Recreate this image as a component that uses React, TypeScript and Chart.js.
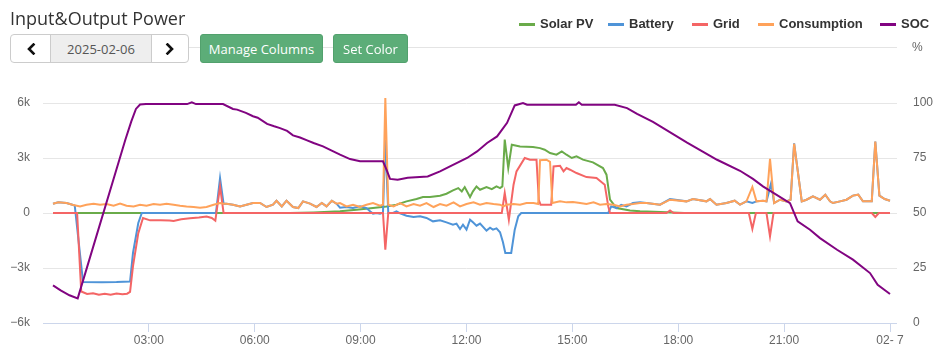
import React, { useEffect, useRef } from "react";
import { Chart, registerables } from "chart.js";

Chart.register(...registerables);

// ---------- data ----------
const SERIES_NAMES = ["Solar PV", "Battery", "Grid", "Consumption", "SOC"];
const SERIES_COLORS = ["#6aab4a", "#4f94d8", "#f46565", "#ffa25a", "#810481"];

const X_TICK_MINUTES = [180, 360, 540, 720, 900, 1080, 1260, 1440];
const X_TICK_LABELS = ["03:00", "06:00", "09:00", "12:00", "15:00", "18:00", "21:00", "02- 7"];
const LEFT_TICK_VALUES = [-6000, -3000, 0, 3000, 6000];
const LEFT_TICK_LABELS = ["\u22126k", "\u22123k", "0", "3k", "6k"];
const RIGHT_TICK_VALUES = [0, 25, 50, 75, 100];
const RIGHT_TICK_LABELS = ["0", "25", "50", "75", "100"];

// [minute of day, W]
const SOLAR_PV: [number, number][] = [
  [17, 0], [420, 0], [460, 30], [505, 90], [533, 180], [561, 270], [584, 360], [601, 450],
  [618, 635], [635, 760], [646, 870], [658, 870], [675, 945], [686, 1050], [697, 1235],
  [706, 1360], [712, 1180], [717, 1415], [726, 870], [731, 1180], [737, 1450], [743, 1270],
  [754, 1415], [763, 1300], [771, 1450], [777, 1360], [781, 1450], [785, 4000], [791, 2450],
  [797, 3720], [811, 3630], [833, 3600], [845, 3540], [853, 3450], [862, 3270], [873, 3180],
  [882, 3360], [890, 3180], [899, 3000], [907, 3090], [918, 2910], [935, 2760], [952, 2450],
  [958, 2090], [964, 725], [975, 270], [998, 140], [1015, 90], [1050, 50], [1090, 0], [1440, 0],
];

const BATTERY: [number, number][] = [
  [17, 500], [26, 580], [40, 545], [50, 450], [54, 400], [68, -3760], [100, -3780], [125, -3770],
  [148, -3740], [153, -2180], [162, -545], [168, 0], [294, 0], [301, 1900], [307, 510], [312, 510],
  [323, 453], [335, 360], [346, 453], [357, 545], [369, 545], [380, 327], [391, 453], [397, 670],
  [406, 360], [414, 670], [425, 327], [434, 270], [442, 635], [454, 510], [465, 327], [474, 545],
  [482, 360], [491, 670], [499, 510], [505, 290], [516, 330], [527, 270], [539, 360], [550, 270],
  [556, 90], [561, -35], [567, 0], [573, -35], [578, 30], [582, 4000], [587, 0], [595, 0],
  [601, 90], [607, -20], [618, -145], [630, -220], [641, -180], [652, -270], [663, -455],
  [675, -400], [686, -510], [697, -640], [703, -580], [709, -870], [714, -640], [720, -910],
  [726, -365], [731, -510], [737, -690], [743, -580], [754, -960], [760, -800], [765, -910],
  [771, -840], [777, -1050], [782, -1600], [786, -2180], [796, -2180], [802, -910], [808, -180],
  [813, 0], [961, 0], [966, 360], [975, 270], [983, 450], [992, 360], [1003, 545], [1015, 580],
  [1026, 545], [1049, 453], [1066, 760], [1094, 635], [1105, 760], [1128, 635], [1134, 760],
  [1145, 453], [1162, 545], [1176, 670], [1185, 453], [1196, 635], [1206, 545], [1213, 635],
  [1224, 670], [1230, 635], [1238, 1640], [1243, 545], [1253, 725], [1264, 635], [1271, 725],
  [1277, 3800], [1290, 635], [1298, 725], [1309, 905], [1321, 725], [1330, 1000], [1338, 635],
  [1343, 545], [1355, 635], [1366, 725], [1377, 950], [1386, 1000], [1394, 635], [1409, 635],
  [1415, 3900], [1422, 950], [1431, 760], [1440, 670],
];

const GRID: [number, number][] = [
  [17, 0], [58, 0], [65, -4280], [75, -4420], [85, -4380], [95, -4460], [105, -4400],
  [115, -4460], [125, -4390], [135, -4430], [143, -4400], [148, -4300], [153, -2900],
  [162, -1100], [170, -270], [182, -400], [200, -400], [215, -410], [222, -430], [235, -340],
  [250, -280], [265, -240], [278, -190], [287, -270], [293, -420], [301, 1450], [307, 0],
  [578, 0], [582, -2000], [587, 0], [780, 0], [785, 1090], [792, -365], [800, 1545],
  [805, 2270], [819, 3000], [828, 2910], [839, 2910], [843, 700], [846, 450], [864, 450],
  [868, 2540], [879, 2580], [885, 2270], [890, 2450], [896, 2360], [907, 2180], [924, 1960],
  [941, 1910], [955, 1545], [961, 360], [964, 0], [1060, 0], [1066, 140], [1072, 0],
  [1200, 0], [1206, -870], [1212, 0], [1230, 0], [1236, -1270], [1242, 0], [1409, 0],
  [1415, -220], [1421, 0], [1440, 0],
];

const CONSUMPTION: [number, number][] = [
  [17, 507], [26, 580], [40, 545], [50, 453], [63, 360], [74, 453], [86, 510], [97, 453],
  [108, 490], [120, 400], [131, 510], [142, 400], [154, 360], [165, 453], [176, 400], [188, 490],
  [199, 453], [210, 510], [222, 453], [233, 400], [244, 360], [256, 327], [267, 290], [278, 327],
  [290, 453], [301, 545], [307, 510], [312, 510], [323, 453], [335, 360], [346, 453], [357, 545],
  [369, 545], [380, 327], [391, 453], [397, 670], [406, 360], [414, 670], [425, 327], [434, 270],
  [442, 635], [454, 510], [465, 327], [474, 545], [482, 360], [491, 670], [499, 510], [505, 545],
  [516, 360], [527, 453], [539, 327], [550, 453], [561, 545], [573, 400], [578, 453], [582, 6270],
  [587, 453], [596, 360], [607, 545], [618, 360], [630, 490], [641, 400], [652, 545], [664, 327],
  [675, 490], [686, 400], [698, 580], [709, 360], [720, 490], [732, 580], [743, 453], [754, 545],
  [766, 490], [777, 453], [783, 360], [788, 453], [800, 490], [811, 453], [822, 545], [834, 545],
  [842, 490], [845, 2880], [856, 2910], [862, 2790], [866, 545], [879, 635], [890, 580],
  [901, 600], [913, 545], [924, 490], [936, 580], [947, 453], [958, 490], [970, 453], [981, 360],
  [992, 453], [1003, 490], [1015, 545], [1026, 545], [1049, 453], [1066, 725], [1094, 635],
  [1105, 760], [1128, 635], [1134, 760], [1145, 453], [1162, 545], [1176, 670], [1185, 453],
  [1196, 635], [1206, 1420], [1213, 635], [1224, 670], [1230, 635], [1236, 2960], [1243, 545],
  [1253, 725], [1264, 635], [1271, 725], [1277, 3780], [1290, 635], [1298, 725], [1309, 905],
  [1321, 725], [1330, 1000], [1338, 635], [1343, 545], [1355, 635], [1366, 725], [1377, 950],
  [1386, 1000], [1394, 635], [1409, 635], [1415, 3900], [1422, 950], [1431, 760], [1440, 670],
];

// [minute of day, %]
const SOC: [number, number][] = [
  [17, 17.1], [30, 14.8], [45, 12.6], [59, 11.2], [140, 83.3], [150, 91.5], [158, 97.3],
  [165, 99.3], [175, 99.5], [245, 99.5], [253, 100.3], [260, 99.5], [306, 99.5], [323, 97.3],
  [330, 97.0], [345, 95.5], [357, 94], [365, 93.3], [381, 90.5], [393, 89.4], [403, 88.6],
  [415, 87.3], [425, 85.3], [437, 84.3], [449, 83], [460, 81.8], [476, 80.3], [490, 78.5],
  [505, 76.5], [522, 74.5], [539, 73.5], [578, 73.5], [584, 69.7], [590, 65.5], [603, 65.1],
  [620, 66], [654, 66.6], [675, 68.9], [692, 71.2], [721, 75], [738, 78], [755, 81.8],
  [772, 84.8], [789, 91], [802, 98.9], [816, 100], [823, 99.2], [906, 99.2], [911, 100.3],
  [916, 99.2], [972, 99.2], [993, 97.7], [1010, 95.1], [1037, 91.4], [1095, 82], [1146, 74.2],
  [1185, 69.2], [1207, 65.5], [1224, 62.1], [1270, 54.5], [1283, 46.2], [1304, 42.4],
  [1321, 38.6], [1350, 33.3], [1377, 28.8], [1406, 22.7], [1419, 17.4], [1440, 13.2],
];

const SERIES_DATA = [SOLAR_PV, BATTERY, GRID, CONSUMPTION, SOC];
const LEGEND_LEFT = [519, 608, 692, 758, 880];

const toXY = (pts: [number, number][]) => pts.map(([x, y]) => ({ x, y }));

// extends horizontal grid lines and the x axis line a few px past the plot's right edge
const gridExtendPlugin = {
  id: "gridExtend",
  beforeDatasetsDraw(chart: any) {
    const { ctx, chartArea, scales } = chart;
    const ys = scales.y;
    ctx.save();
    ctx.lineWidth = 1;
    ys.ticks.forEach((t: any) => {
      const py = Math.round(ys.getPixelForValue(t.value)) + 0.5;
      ctx.strokeStyle = t.value === LEFT_TICK_VALUES[0] ? "#ccd6eb" : "#e6e6e6";
      ctx.beginPath();
      ctx.moveTo(chartArea.right, py);
      ctx.lineTo(chartArea.right + 7, py);
      ctx.stroke();
    });
    ctx.restore();
  },
};

const Chevron = ({ dir }: { dir: "left" | "right" }) => (
  <svg width="10" height="12" viewBox="0 0 10 12" style={{ display: "block" }}>
    <polyline
      points={dir === "left" ? "7.5,1.5 3,6 7.5,10.5" : "2.5,1.5 7,6 2.5,10.5"}
      fill="none"
      stroke="#111"
      strokeWidth="2.6"
      strokeLinecap="square"
    />
  </svg>
);

export default function App() {
  const canvasRef = useRef<HTMLCanvasElement>(null);

  useEffect(() => {
    if (!canvasRef.current) return;
    const datasets = SERIES_NAMES.map((name, i) => ({
      label: name,
      data: toXY(SERIES_DATA[i]),
      borderColor: SERIES_COLORS[i],
      backgroundColor: SERIES_COLORS[i],
      borderWidth: 2,
      pointRadius: 0,
      tension: 0,
      fill: false,
      clip: { left: 2, top: 12, right: 2, bottom: 2 },
      yAxisID: i === 4 ? "y1" : "y",
      order: 5 - i,
    }));

    const chart = new Chart(canvasRef.current, {
      type: "line",
      data: { datasets },
      plugins: [gridExtendPlugin],
      options: {
        animation: false,
        responsive: false,
        devicePixelRatio: 1,
        layout: { padding: { top: 103, left: 0, right: 0, bottom: 0 } },
        plugins: { legend: { display: false }, tooltip: { enabled: false } },
        scales: {
          x: {
            type: "linear",
            min: 0,
            max: 1440,
            afterBuildTicks: (s: any) => {
              s.ticks = X_TICK_MINUTES.map((v) => ({ value: v }));
            },
            afterFit: (s: any) => {
              s.height = 37;
            },
            ticks: {
              autoSkip: false,
              maxRotation: 0,
              padding: 1,
              color: "#666",
              font: { family: "'Liberation Sans', Arial, sans-serif", size: 12 },
              callback: (_v: any, i: number) => X_TICK_LABELS[i],
            },
            grid: { drawOnChartArea: false, drawTicks: true, tickLength: 9, color: "#ccd6eb" },
            border: { display: true, color: "#ccd6eb" },
          },
          y: {
            type: "linear",
            position: "left",
            min: -6000,
            max: 6000,
            afterBuildTicks: (s: any) => {
              s.ticks = LEFT_TICK_VALUES.map((v) => ({ value: v }));
            },
            afterFit: (s: any) => {
              s.width = 43;
            },
            ticks: {
              padding: 13,
              color: "#666",
              font: { family: "'Liberation Sans', Arial, sans-serif", size: 12 },
              callback: (_v: any, i: number) => LEFT_TICK_LABELS[i],
            },
            grid: { color: "#e6e6e6", drawTicks: false },
            border: { display: false },
          },
          y1: {
            type: "linear",
            position: "right",
            min: 0,
            max: 100,
            afterBuildTicks: (s: any) => {
              s.ticks = RIGHT_TICK_VALUES.map((v) => ({ value: v }));
            },
            afterFit: (s: any) => {
              s.width = 54;
            },
            ticks: {
              padding: 23,
              color: "#666",
              font: { family: "'Liberation Sans', Arial, sans-serif", size: 12 },
              callback: (_v: any, i: number) => RIGHT_TICK_LABELS[i],
            },
            grid: { drawOnChartArea: false, drawTicks: false },
            border: { display: false },
          },
        },
      } as any,
    });
    return () => chart.destroy();
  }, []);

  const btnFont = "'Open Sans', 'Noto Sans', sans-serif";

  return (
    <div
      style={{
        position: "absolute",
        left: 0,
        top: 0,
        width: 944,
        height: 360,
        background: "#fff",
        overflow: "hidden",
      }}
    >
      <canvas
        ref={canvasRef}
        width={944}
        height={360}
        style={{ position: "absolute", left: 0, top: 0, width: 944, height: 360 }}
      />

      {/* title */}
      <div
        style={{
          position: "absolute",
          left: 10,
          top: 6,
          fontFamily: btnFont,
          fontSize: 18,
          lineHeight: "24px",
          color: "#333",
          whiteSpace: "nowrap",
        }}
      >
        Input&amp;Output Power
      </div>

      {/* header rule */}
      <div style={{ position: "absolute", left: 10, top: 47, width: 887, height: 1, background: "#e4e4e4" }} />

      {/* date navigator */}
      <div
        style={{
          position: "absolute",
          left: 10,
          top: 34,
          width: 177,
          height: 27,
          border: "1px solid #ccc",
          borderRadius: 4,
          background: "#fff",
          display: "flex",
          overflow: "hidden",
        }}
      >
        <div style={{ width: 39, display: "flex", alignItems: "center", justifyContent: "center", borderRight: "1px solid #ccc" }}>
          <Chevron dir="left" />
        </div>
        <div
          style={{
            width: 100,
            background: "#eee",
            display: "flex",
            alignItems: "center",
            justifyContent: "center",
            fontFamily: btnFont,
            fontSize: 13,
            color: "#555",
            borderRight: "1px solid #ccc",
          }}
        >
          2025-02-06
        </div>
        <div style={{ flex: 1, display: "flex", alignItems: "center", justifyContent: "center" }}>
          <Chevron dir="right" />
        </div>
      </div>

      {/* green buttons */}
      {[
        { text: "Manage Columns", left: 200, width: 123 },
        { text: "Set Color", left: 333, width: 75 },
      ].map((b) => (
        <div
          key={b.text}
          style={{
            position: "absolute",
            left: b.left,
            top: 34,
            width: b.width - 2,
            height: 27,
            border: "1px solid #52a16d",
            borderRadius: 3,
            background: "#5cad78",
            color: "#fff",
            fontFamily: btnFont,
            fontSize: 13,
            display: "flex",
            alignItems: "center",
            justifyContent: "center",
            whiteSpace: "nowrap",
          }}
        >
          {b.text}
        </div>
      ))}

      {/* legend */}
      {SERIES_NAMES.map((name, i) => (
        <div
          key={name}
          style={{
            position: "absolute",
            left: LEGEND_LEFT[i],
            top: 16,
            height: 16,
            display: "flex",
            alignItems: "center",
            whiteSpace: "nowrap",
          }}
        >
          <div style={{ width: 16, height: 3, background: SERIES_COLORS[i], marginRight: 5 }} />
          <div
            style={{
              fontFamily: "'Liberation Sans', Arial, sans-serif",
              fontWeight: 700,
              fontSize: 13,
              lineHeight: "16px",
              color: "#333",
            }}
          >
            {name}
          </div>
        </div>
      ))}

      {/* right axis unit */}
      <div
        style={{
          position: "absolute",
          left: 912,
          top: 40,
          fontFamily: "'Liberation Sans', Arial, sans-serif",
          fontSize: 12,
          lineHeight: "14px",
          color: "#666",
        }}
      >
        %
      </div>
    </div>
  );
}
